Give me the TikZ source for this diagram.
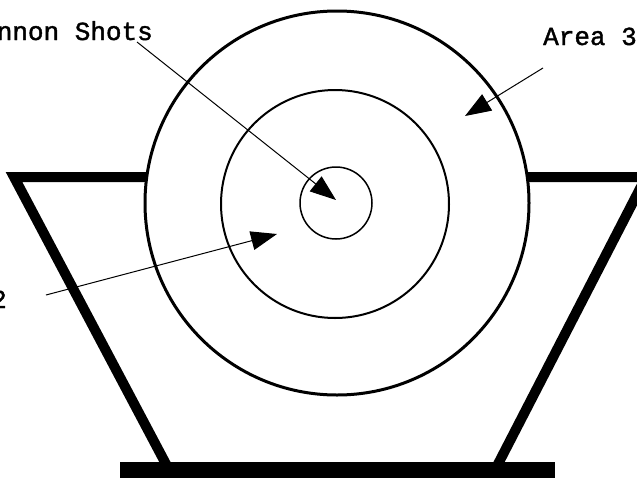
\documentclass[tikz,border=0pt]{standalone}
\usepackage{fontspec}
\setmainfont[FakeBold=1.5]{Liberation Mono}
\usetikzlibrary{arrows.meta}
\begin{document}
\begin{tikzpicture}[x=1pt,y=-1pt,
  ring/.style={draw,circle,inner sep=0pt,outer sep=0pt},
  lbl/.style={font=\fontsize{26}{30}\selectfont,inner sep=0pt},
  pointer/.style={line width=1pt,-{Triangle[length=26pt,width=19pt]}},
  standline/.style={line width=10pt,line join=miter}]
\useasboundingbox (0,0) rectangle (637,477);
\clip (0,0) rectangle (637,477);
% stand
\draw[standline] (146,177) -- (14,177) -- (167,466);
\draw[standline] (528,177) -- (646,177) -- (497,466);
\fill (120,462) rectangle (555,480);
% target rings
\node[ring,line width=3pt,minimum size=384pt] (outer) at (337,203) {};
\node[ring,line width=2pt,minimum size=228pt] (middle) at (335,204) {};
\node[ring,line width=1.5pt,minimum size=72pt] (inner) at (336,203) {};
% labels
\node[lbl,anchor=base east] (cannon) at (153,40) {Cannon Shots};
\node[lbl,anchor=base west] (area3) at (543,45) {Area 3};
\node[lbl,anchor=base east] (area2) at (7,308) {Area 2};
% pointers
\coordinate (c1) at (137,42);
\coordinate (t1) at (336,200);
\coordinate (c3) at (543,68);
\coordinate (t3) at (465,116);
\coordinate (c2) at (46,295);
\coordinate (t2) at (277,234);
\draw[pointer] (c1) -- (t1);
\draw[pointer] (c3) -- (t3);
\draw[pointer] (c2) -- (t2);
\end{tikzpicture}
\end{document}
